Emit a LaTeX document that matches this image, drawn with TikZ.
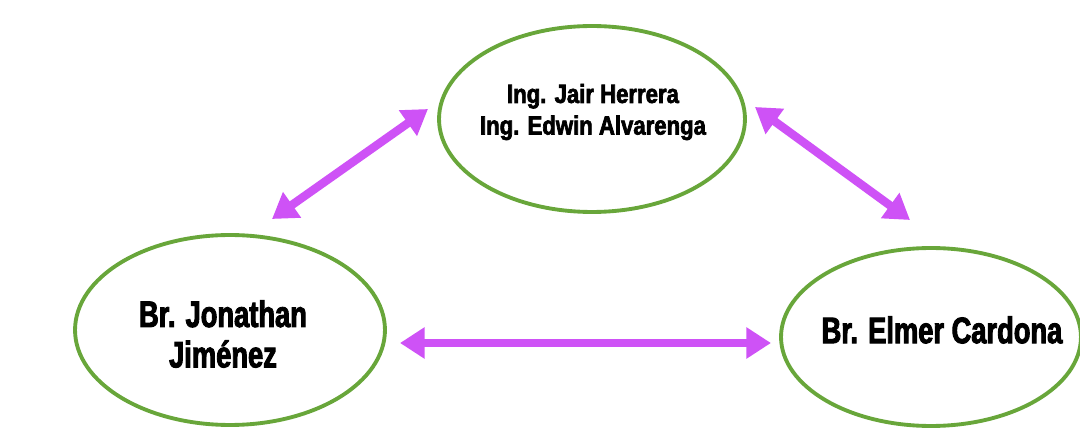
\documentclass[tikz,border=0pt]{standalone}
\usepackage{fontspec}
\setmainfont[FakeStretch=0.74,FakeBold=2.5]{Liberation Sans Bold}
\newfontfamily\topnames[FakeStretch=0.84,FakeBold=2.5]{Liberation Sans Bold}
\usetikzlibrary{arrows.meta,shapes.geometric}
\definecolor{ringgreen}{RGB}{104,166,58}
\definecolor{linkviolet}{RGB}{206,82,246}
\tikzset{
	person/.style={ellipse, draw=ringgreen, line width=2.2pt, align=center, inner sep=0pt},
	link/.style={linkviolet, line width=4.8pt, {Triangle[length=14pt,width=17pt]}-{Triangle[length=14pt,width=17pt]}}
}
\begin{document}
\begin{tikzpicture}[x=0.02cm, y=-0.02cm]
			\useasboundingbox (0,0) rectangle (1080,429);
			\node[person, minimum width=6.12cm, minimum height=3.72cm] (top) at (592,119) {};
			\node[person, minimum width=6.2cm, minimum height=3.8cm] (left) at (230,330) {};
			\node[person, minimum width=6.0cm, minimum height=3.56cm] (right) at (931,337) {};
			\node[font=\topnames\fontsize{15}{18}\selectfont, align=center] (toptext) at (593,112) {Ing. Jair Herrera\\Ing. Edwin Alvarenga};
			\node[font=\fontsize{21}{23}\selectfont, align=center] (lefttext) at (223,334) {Br. Jonathan\\Jiménez};
			\node[font=\fontsize{21}{23}\selectfont] (righttext) at (942,330) {Br. Elmer Cardona};
			\coordinate (a1) at (272,219);
			\coordinate (a2) at (428,109);
			\coordinate (b1) at (755,107);
			\coordinate (b2) at (910,220);
			\coordinate (c1) at (400,343);
			\coordinate (c2) at (771,343);
			\foreach \p\q in {a1/a2,b1/b2,c1/c2}{
				\draw[link] (\p) -- (\q);
			}
		\end{tikzpicture}
\end{document}
